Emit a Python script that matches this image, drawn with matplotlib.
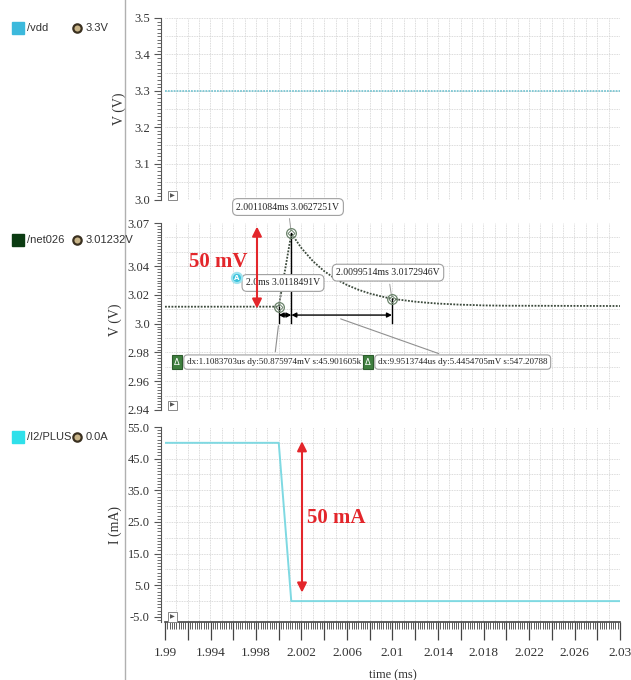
import numpy as np
import matplotlib.pyplot as plt
from matplotlib.ticker import MultipleLocator
from matplotlib.lines import Line2D

t_vdd = [1.99, 2.03]
v_vdd = [3.3, 3.3]

t_net = [1.99, 2.0, 2.0011084, 2.002, 2.003, 2.004, 2.005, 2.006, 2.007, 2.008,
         2.009, 2.0099514, 2.011, 2.012, 2.013, 2.014, 2.015, 2.016, 2.017,
         2.018, 2.02, 2.03]
v_net = [3.0118, 3.0118491, 3.0627251, 3.0525, 3.0435, 3.0365, 3.0311, 3.0269,
         3.0236, 3.0210, 3.0190, 3.0172946, 3.0163, 3.0153, 3.0146, 3.0140,
         3.0136, 3.0132, 3.0130, 3.0127, 3.0125, 3.0123]

t_cur = [1.99, 2.0, 2.0011, 2.03]
i_cur = [50.0, 50.0, 0.0, 0.0]

# cursor markers (time, value, label)
mark_t = [2.0, 2.0011084, 2.0099514]
mark_v = [3.0118491, 3.0627251, 3.0172946]
mark_lbl = ['2.0ms 3.0118491V', '2.0011084ms 3.0627251V', '2.0099514ms 3.0172946V']
delta_lbl = ['dx:1.1083703us dy:50.875974mV s:45.901605k',
             'dx:9.9513744us dy:5.4454705mV s:547.20788']

x_ticks = [1.99, 1.992, 1.994, 1.996, 1.998, 2.0, 2.002, 2.004, 2.006, 2.008, 2.01,
           2.012, 2.014, 2.016, 2.018, 2.02, 2.022, 2.024, 2.026, 2.028, 2.03]
x_labels = ['1.99', '', '1.994', '', '1.998', '', '2.002', '', '2.006', '', '2.01',
            '', '2.014', '', '2.018', '', '2.022', '', '2.026', '', '2.03']
y1_ticks = [3.0, 3.1, 3.2, 3.3, 3.4, 3.5]
y1_labels = ['3.0', '3.1', '3.2', '3.3', '3.4', '3.5']
y2_ticks = [2.94, 2.96, 2.98, 3.0, 3.02, 3.04, 3.07]
y2_labels = ['2.94', '2.96', '2.98', '3.0', '3.02', '3.04', '3.07']
y3_ticks = [-5, 5, 15, 25, 35, 45, 55]
y3_labels = ['-5.0', '5.0', '15.0', '25.0', '35.0', '45.0', '55.0']

W, H = 631, 680
fig = plt.figure(figsize=(W / 100, H / 100), dpi=100)
serif = 'Liberation Serif'
tick_col = '#333333'
grid_col = '#cfcfcf'


def px(x0, y0, x1, y1):
    return [x0 / W, 1 - y1 / H, (x1 - x0) / W, (y1 - y0) / H]


def tx(xp):
    # pixel column -> time (ms)
    return 1.99 + (xp - 165) / 455 * 0.04


ax1 = fig.add_axes(px(165, 18, 620, 200))
ax2 = fig.add_axes(px(165, 223, 620, 410))
ax3 = fig.add_axes(px(165, 427, 620, 622))

for ax in (ax1, ax2, ax3):
    ax.set_xlim(1.99, 2.03)
    for s in ('top', 'right', 'bottom'):
        ax.spines[s].set_visible(False)
    ax.spines['left'].set_color('#555555')
    ax.spines['left'].set_position(('outward', 3))
    ax.tick_params(axis='y', which='major', length=5, width=0.8, color='#555555',
                   labelsize=9, labelcolor=tick_col, pad=3)
    ax.tick_params(axis='y', which='minor', length=3, width=0.6, color='#555555')
    # grid: vertical every 0.001 ms
    for g in np.arange(1.991, 2.0295, 0.001):
        ax.axvline(g, color=grid_col, lw=0.6, ls=(0, (1, 1)), zorder=0)
    ax.set_xticks([])
    ax.text(0.012, 0.012, '\u25B6', transform=ax.transAxes, fontsize=4.5,
            color='#555555', ha='left', va='bottom',
            bbox=dict(boxstyle='square,pad=0.35', fc='white', ec='#888888', lw=0.7))

# top panel: /vdd
ax1.plot(t_vdd, v_vdd, color='#7cc6d2', lw=1.3, ls=(0, (1, 0.6)))
ax1.set_ylim(3.0, 3.5)
ax1.set_yticks(y1_ticks, y1_labels, fontfamily=serif)
ax1.yaxis.set_minor_locator(MultipleLocator(0.01))
for g in np.arange(3.05, 3.5, 0.05):
    ax1.axhline(g, color=grid_col, lw=0.6, ls=(0, (1, 1)), zorder=0)
ax1.set_ylabel('V (V)', fontfamily=serif, fontsize=10, color=tick_col)
ax1.yaxis.set_label_coords(-0.085, 0.5)

# middle panel: /net026
ax2.plot(t_net, v_net, color='#3c4a3c', lw=1.3, ls=(0, (1, 0.8)))
ax2.set_ylim(2.94, 3.07)
ax2.set_yticks(y2_ticks, y2_labels, fontfamily=serif)
ax2.yaxis.set_minor_locator(MultipleLocator(0.002))
for g in np.arange(2.95, 3.07, 0.01):
    ax2.axhline(g, color=grid_col, lw=0.6, ls=(0, (1, 1)), zorder=0)
ax2.set_ylabel('V (V)', fontfamily=serif, fontsize=10, color=tick_col)
ax2.yaxis.set_label_coords(-0.095, 0.48)

# cursors
base_v = 3.0005
arrow_v = 3.006
for tm, vm in zip(mark_t, mark_v):
    ax2.plot([tm, tm], [vm, base_v], color='black', lw=1.0, zorder=3)
    ax2.plot(tm, vm, marker='o', ms=7, mfc='none', mec='#6b836b', mew=0.9, zorder=4)
    ax2.plot(tm, vm, marker='D', ms=3.5, mfc='none', mec='#6b836b', mew=0.7, zorder=4)
for a, b in ((mark_t[0], mark_t[1]), (mark_t[1], mark_t[2])):
    ax2.annotate('', xy=(a, arrow_v), xytext=(b, arrow_v),
                 arrowprops=dict(arrowstyle='<|-|>', color='black', lw=1.0,
                                 mutation_scale=7, shrinkA=0, shrinkB=0))

box = dict(boxstyle='round,pad=0.4,rounding_size=0.5', fc='white', ec='#a0a0a0', lw=0.8)
ax2.annotate(mark_lbl[1], xy=(mark_t[1], mark_v[1]), xytext=(tx(288), 3.0811),
             ha='center', va='center', fontsize=7, fontfamily=serif,
             color='#222222', bbox=box, annotation_clip=False,
             arrowprops=dict(arrowstyle='-', color='#a0a0a0', lw=0.7))
ax2.annotate(mark_lbl[0], xy=(mark_t[0], mark_v[0]), xytext=(tx(283), 3.0283),
             ha='center', va='center', fontsize=7, fontfamily=serif,
             color='#222222', bbox=box,
             arrowprops=dict(arrowstyle='-', color='#a0a0a0', lw=0.7))
ax2.annotate(mark_lbl[2], xy=(mark_t[2], mark_v[2]), xytext=(tx(388), 3.0355),
             ha='center', va='center', fontsize=7, fontfamily=serif,
             color='#222222', bbox=box,
             arrowprops=dict(arrowstyle='-', color='#a0a0a0', lw=0.7))
ax2.text(tx(237), 3.0318, 'A', fontsize=5, color='white', ha='center', va='center',
         fontweight='bold',
         bbox=dict(boxstyle='circle,pad=0.3', fc='#3cc3dc', ec='#9fe3ef', lw=1.5))

dbox = dict(boxstyle='round,pad=0.35,rounding_size=0.4', fc='white', ec='#a0a0a0', lw=0.8)
ax2.annotate(delta_lbl[0], xy=(2.0, base_v), xytext=(tx(187), 2.9733),
             ha='left', va='center', fontsize=6.5, fontfamily=serif,
             color='#222222', bbox=dbox,
             arrowprops=dict(arrowstyle='-', color='#909090', lw=0.8))
ax2.annotate(delta_lbl[1], xy=(tx(338), arrow_v - 0.002), xytext=(tx(378), 2.9733),
             ha='left', va='center', fontsize=6.5, fontfamily=serif,
             color='#222222', bbox=dbox,
             arrowprops=dict(arrowstyle='-', color='#909090', lw=0.8))
for xp in (177, 368):
    ax2.text(tx(xp), 2.9733, '\u0394', fontsize=6, color='white', ha='center', va='center',
             bbox=dict(boxstyle='square,pad=0.3', fc='#3f7f3f', ec='#2c5c2c', lw=0.8))

# 50 mV marker
ax2.annotate('', xy=(tx(257), 3.0675), xytext=(tx(257), 3.0105),
             arrowprops=dict(arrowstyle='<|-|>', color='#e3262b', lw=1.5,
                             mutation_scale=14, shrinkA=0, shrinkB=0))
ax2.text(tx(218), 3.0429, '50 mV', color='#e3262b', fontsize=15, fontweight='bold',
         fontfamily=serif, ha='center', va='center')

# bottom panel: /I2/PLUS
ax3.plot(t_cur, i_cur, color='#7fd9e2', lw=1.4)
ax3.set_ylim(-6.6, 55)
ax3.set_yticks(y3_ticks, y3_labels, fontfamily=serif)
ax3.yaxis.set_minor_locator(MultipleLocator(1))
for g in np.arange(0, 55, 5):
    ax3.axhline(g, color=grid_col, lw=0.6, ls=(0, (1, 1)), zorder=0)
ax3.set_ylabel('I (mA)', fontfamily=serif, fontsize=10, color=tick_col)
ax3.yaxis.set_label_coords(-0.095, 0.5)
ax3.annotate('', xy=(tx(302), 50.5), xytext=(tx(302), 2.7),
             arrowprops=dict(arrowstyle='<|-|>', color='#e3262b', lw=1.5,
                             mutation_scale=14, shrinkA=0, shrinkB=0))
ax3.text(tx(336), 26.3, '50 mA', color='#e3262b', fontsize=15, fontweight='bold',
         fontfamily=serif, ha='center', va='center')

# time ruler
ax3.spines['bottom'].set_visible(True)
ax3.spines['bottom'].set_color('#444444')
ax3.spines['bottom'].set_linewidth(1.2)
ax3.set_xticks(x_ticks, x_labels, fontfamily=serif)
ax3.xaxis.set_minor_locator(MultipleLocator(0.0002))
ax3.tick_params(axis='x', which='major', length=13, width=0.9, color='#444444',
                labelsize=9.5, labelcolor=tick_col, pad=5)
ax3.tick_params(axis='x', which='minor', length=5, width=0.6, color='#444444')
ax3.set_xlabel('time (ms)', fontfamily=serif, fontsize=9, color=tick_col)
ax3.xaxis.set_label_coords(0.5, -0.242)

# left legend column
fig.add_artist(Line2D([125 / W, 125 / W], [0, 1], color='#b0b0b0', lw=1.0))
rows = [('/vdd', '3.3V', '#3cb9dc', 28),
        ('/net026', '3.01232V', '#0b3b12', 240),
        ('/I2/PLUS', '0.0A', '#2fe0ea', 437)]
for name, val, col, yp in rows:
    yf = 1 - yp / H
    fig.add_artist(Line2D([18 / W], [yf], marker='s', ms=8, color=col, ls='none'))
    fig.text(27 / W, yf, name, fontsize=8, color='#333333', va='center',
             fontfamily='Liberation Sans')
    fig.add_artist(Line2D([77 / W], [yf], marker='o', ms=6, mfc='#c8b488',
                          mec='#3a3020', mew=1.6, ls='none'))
    fig.text(86 / W, yf, val, fontsize=8, color='#333333', va='center',
             fontfamily='Liberation Sans')

fig.savefig('out.png', dpi=100)
